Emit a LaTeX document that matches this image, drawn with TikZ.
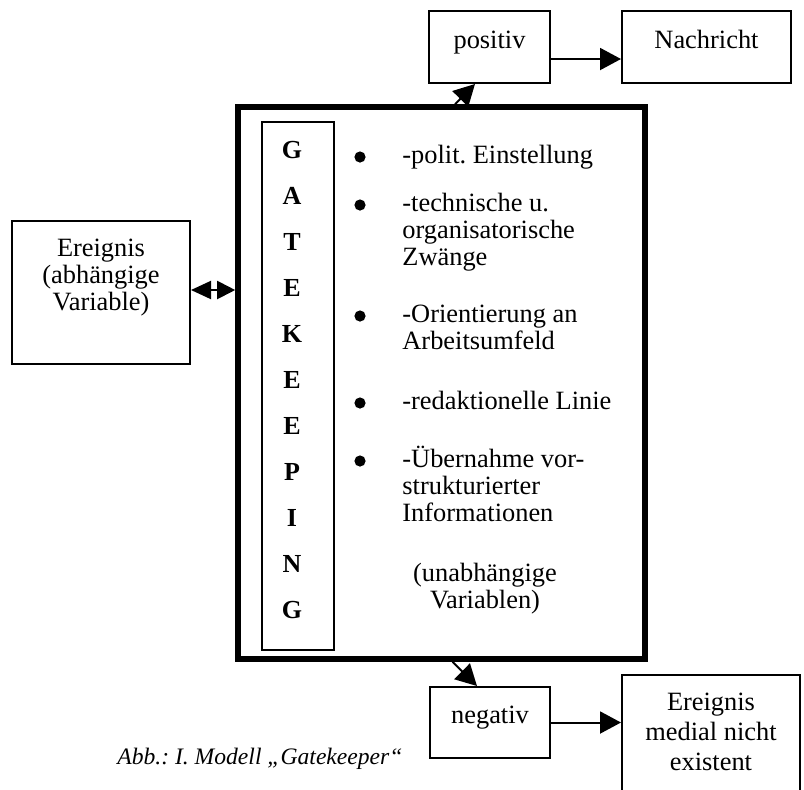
\documentclass[tikz,border=0pt]{standalone}
\usepackage{fontspec}
\setmainfont{Liberation Serif}
\usetikzlibrary{arrows.meta}
\usetikzlibrary{positioning}
\frenchspacing

\tikzset{
  kasten/.style={draw, line width=1pt, inner sep=0pt},
  schrift/.style={inner sep=0pt, align=center, font=\fontsize{13.2}{13.5}\selectfont},
  buchst/.style={inner sep=0pt, font=\fontsize{13}{13}\selectfont\bfseries},
  pfeil/.style={line width=1pt, -{Triangle[length=10.5pt,width=11pt]}},
}

\begin{document}
\begin{tikzpicture}[x=0.5pt,y=-0.5pt]
    \useasboundingbox (0,0) rectangle (804,789);
    \clip (0,0) rectangle (804,789);

    % Kaesten
    \node[kasten, minimum width=60.5pt, minimum height=36pt] (pos) at (489.5,47) {};
    \node[kasten, minimum width=84.5pt, minimum height=36pt] (nach) at (706.5,47) {};
    \node[kasten, minimum width=89pt, minimum height=71.5pt] (ereig) at (101,292.5) {};
    \node[draw, line width=2.8pt, inner sep=0pt, minimum width=203.5pt, minimum height=276pt] (gate) at (441.5,383) {};
    \node[kasten, minimum width=36pt, minimum height=264pt] (gk) at (298,386) {};
    \node[kasten, minimum width=60pt, minimum height=35.5pt] (neg) at (490,722.5) {};
    \node[kasten, minimum width=89pt, minimum height=60pt] (med) at (711,735) {};

    % Texte (base = letzte Zeile)
    \node[schrift, anchor=base] (tpos) at (489.5,48) {positiv};
    \node[schrift, anchor=base] (tnach) at (706.5,48) {Nachricht};
    \node[schrift, anchor=base] (tereig) at (101,310) {Ereignis\\(abhängige\\Variable)};
    \node[schrift, anchor=base] (tneg) at (490,723) {negativ};
    \node[schrift, anchor=base, font=\fontsize{13.2}{15}\selectfont] (tmed) at (711,770) {Ereignis\\medial nicht\\existent};

    % GATEKEEPING senkrecht
    \foreach \b [count=\i] in {G,A,T,E,K,E,E,P,I,N,G} {
        \node[buchst] (l\i) at (292,{150+46*(\i-1)}) {\b};
    }

    % Einflussfaktoren
    \foreach \y in {157,205,316,403,461} {
        \fill (360,\y) circle (2.8pt);
    }
    \node[schrift, anchor=base west, align=left] (p1) at (402,163) {-polit. Einstellung};
    \node[schrift, anchor=base west, align=left] (p2) at (402,265) {-technische u.\\organisatorische\\Zwänge};
    \node[schrift, anchor=base west, align=left] (p3) at (402,349) {-Orientierung an\\Arbeitsumfeld};
    \node[schrift, anchor=base west, align=left] (p4) at (402,409) {-redaktionelle Linie};
    \node[schrift, anchor=base west, align=left] (p5) at (402,521) {-Übernahme vor-\\strukturierter\\Informationen};
    \node[schrift, anchor=base] (uv) at (485,608) {(unabhängige\\Variablen)};

    % Pfeile
    \draw[pfeil] ([yshift=-6pt]pos.east) -- ([yshift=-6pt]pos.east -| nach.west);
    \draw[pfeil] (neg.east) -- (neg.east -| med.west);
    \draw[pfeil] ([xshift=6.75pt]gate.north) -- ([xshift=-7.25pt]pos.south);
    \draw[pfeil] ([xshift=5.5pt]gate.south) -- ([xshift=-6.5pt]neg.north);
    \draw[line width=1pt, {Triangle[length=10pt,width=9pt]}-{Triangle[length=9pt,width=9pt]}]
        ([yshift=1.25pt]ereig.east) -- ([yshift=1.25pt]ereig.east -| gate.west);

    % Bildunterschrift
    \node[inner sep=0pt, anchor=base west, font=\fontsize{11.8}{12}\selectfont\itshape] (abb) at (117,764) {Abb.: I. Modell „Gatekeeper“};
\end{tikzpicture}
\end{document}
